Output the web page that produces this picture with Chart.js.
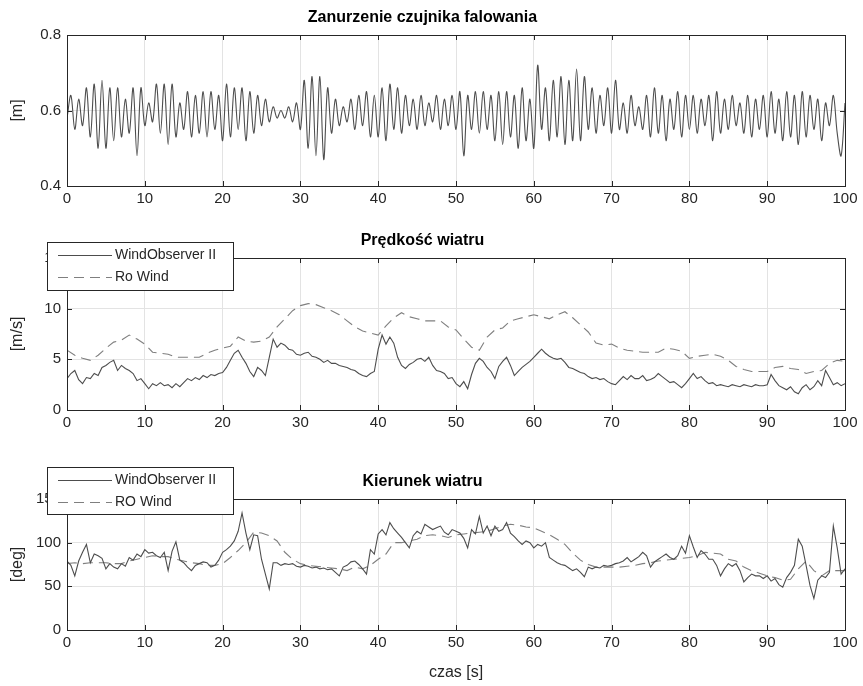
<!DOCTYPE html>
<html>
<head>
<meta charset="utf-8">
<script src="https://cdn.jsdelivr.net/npm/chart.js@4.4.1/dist/chart.umd.min.js"></script>
<style>
  body { margin: 0; background: #fff; }
  #wrap { position: relative; width: 863px; height: 686px; }
  canvas { position: absolute; left: 0; }
</style>
</head>
<body>
<div id="wrap">
  <canvas id="waveChart" width="863" height="223" style="top:0px"></canvas>
  <canvas id="speedChart" width="863" height="223" style="top:223px"></canvas>
  <canvas id="dirChart" width="863" height="222" style="top:464px"></canvas>
</div>
<script>
// sample steps (s)
const FAST_DT = 0.5;
const SLOW_DT = 1;
const X_TICKS = [0, 10, 20, 30, 40, 50, 60, 70, 80, 90, 100];

// Zanurzenie czujnika falowania [m], every 0.5 s
const waveDepth = [
  0.58,0.64,0.55,0.63,0.56,0.66,0.53,0.67,0.50,0.68,
  0.50,0.66,0.52,0.66,0.53,0.63,0.54,0.66,0.48,0.66,
  0.56,0.62,0.57,0.67,0.54,0.67,0.51,0.67,0.53,0.62,
  0.55,0.65,0.53,0.64,0.54,0.65,0.53,0.65,0.55,0.64,
  0.52,0.67,0.53,0.66,0.55,0.66,0.52,0.65,0.54,0.64,
  0.56,0.63,0.57,0.61,0.58,0.60,0.58,0.61,0.57,0.62,
  0.55,0.68,0.50,0.69,0.48,0.69,0.47,0.66,0.54,0.63,
  0.56,0.61,0.57,0.63,0.55,0.64,0.56,0.65,0.53,0.64,
  0.53,0.66,0.52,0.67,0.55,0.66,0.54,0.64,0.56,0.63,
  0.55,0.64,0.56,0.62,0.57,0.64,0.55,0.63,0.56,0.64,
  0.55,0.65,0.48,0.64,0.55,0.65,0.54,0.65,0.55,0.64,
  0.52,0.65,0.51,0.65,0.53,0.64,0.50,0.66,0.52,0.63,
  0.50,0.72,0.55,0.66,0.52,0.68,0.53,0.69,0.51,0.68,
  0.52,0.71,0.52,0.69,0.55,0.66,0.54,0.64,0.56,0.66,
  0.54,0.68,0.55,0.62,0.54,0.64,0.56,0.61,0.55,0.64,
  0.53,0.66,0.54,0.64,0.52,0.63,0.55,0.65,0.53,0.64,
  0.55,0.64,0.54,0.63,0.56,0.64,0.52,0.65,0.54,0.63,
  0.55,0.64,0.56,0.62,0.54,0.64,0.53,0.63,0.55,0.64,
  0.53,0.65,0.54,0.63,0.52,0.65,0.53,0.64,0.51,0.65,
  0.53,0.64,0.55,0.63,0.52,0.62,0.56,0.64,0.54,0.48,
  0.62
];

// Prędkość wiatru [m/s]
const speedWindObserver = [
  3.1,3.6,3.9,3.0,2.6,3.2,3.1,3.6,3.4,4.2,
  4.4,4.7,4.9,3.9,4.4,4.1,3.9,3.6,2.9,3.1,
  2.6,2.1,2.6,2.4,2.7,2.4,2.5,2.2,2.6,2.3,
  2.7,3.1,2.9,3.2,3.0,3.4,3.2,3.5,3.4,3.6,
  3.7,4.2,4.9,5.6,5.9,5.2,4.6,3.8,3.3,4.2,
  3.9,3.4,5.2,7.0,6.2,6.6,6.4,6.0,5.9,5.5,
  5.4,5.6,5.7,5.3,5.2,5.0,4.7,4.9,4.6,4.6,
  4.4,4.3,4.2,4.0,3.9,3.6,3.4,3.3,3.6,3.8,
  6.0,7.4,6.5,7.2,6.6,5.2,4.4,4.1,4.5,4.7,
  5.0,5.1,4.8,5.2,4.4,3.9,3.8,3.6,3.1,3.2,
  2.6,2.3,2.8,2.1,3.5,4.6,5.1,4.8,4.2,3.8,
  3.1,4.3,4.8,5.2,4.4,3.4,3.8,4.2,4.5,4.8,
  5.2,5.6,6.0,5.6,5.3,5.1,5.0,5.1,4.7,4.2,
  4.1,3.9,3.7,3.6,3.3,3.1,3.2,3.0,3.1,2.8,
  2.6,2.5,2.9,3.3,3.0,3.4,3.1,3.1,3.4,2.9,
  3.0,3.2,3.6,3.3,3.0,2.7,2.8,2.5,2.2,2.6,
  3.1,3.6,3.1,3.3,2.9,2.6,2.7,2.4,2.5,2.4,
  2.3,2.5,2.4,2.3,2.5,2.4,2.3,2.5,2.4,2.4,
  2.5,3.5,2.9,2.4,2.2,2.0,2.3,1.8,1.6,2.2,
  2.5,2.0,2.3,2.9,2.4,3.9,3.2,2.5,2.7,2.4,
  2.6
];
const speedRoWind = [
  5.9,5.4,5.1,4.9,5.4,6.1,6.7,6.9,7.4,7.0,
  6.5,5.7,5.6,5.5,5.2,5.2,5.2,5.2,5.6,5.9,
  6.1,6.3,7.2,6.8,6.7,6.8,7.2,8.2,9.0,9.8,
  10.3,10.5,10.4,10.1,9.8,9.4,8.8,8.2,7.8,7.6,
  7.4,8.3,9.1,9.6,9.2,9.0,8.8,8.8,8.8,8.2,
  7.9,7.0,6.2,5.9,7.2,7.9,8.1,8.8,9.0,9.2,
  9.4,9.2,9.0,9.4,9.7,9.1,8.4,7.7,6.6,6.4,
  6.5,6.1,5.9,5.8,5.7,5.7,5.7,6.1,6.0,5.8,
  5.1,5.3,5.4,5.5,5.3,4.9,4.3,4.0,3.8,3.8,
  3.8,4.2,4.3,4.1,4.0,3.6,3.8,3.9,4.6,4.9,
  4.8
];

// Kierunek wiatru [deg]
const dirWindObserver = [
  79,74,62,79,89,98,77,87,85,82,
  70,76,72,70,76,73,83,80,87,84,
  92,88,89,85,83,89,68,90,101,80,
  77,72,68,74,76,78,77,72,74,80,
  89,92,96,102,113,134,111,92,109,108,
  81,64,47,77,77,74,76,75,76,73,
  72,74,73,71,72,70,71,69,70,66,
  62,72,74,78,79,75,70,64,92,87,
  110,115,109,123,116,111,106,100,94,108,
  113,110,121,118,115,117,119,112,109,115,
  113,111,105,94,115,110,130,111,119,108,
  119,113,115,123,111,107,102,98,102,100,
  94,98,96,100,83,80,77,75,74,71,
  68,70,66,61,72,70,72,71,74,73,
  74,76,77,79,83,78,81,84,89,85,
  72,78,81,84,87,83,81,85,96,88,
  108,95,83,91,87,81,81,74,62,70,
  76,73,76,68,55,60,64,62,62,59,
  62,56,59,52,49,60,66,74,104,96,
  74,51,36,57,62,60,66,119,94,64,
  70
];
const dirRoWind = [
  76,77,76,77,77,77,76,76,79,81,
  83,85,84,84,81,79,77,76,74,74,
  76,83,91,100,112,111,108,102,89,81,
  76,74,73,72,71,70,68,72,70,74,
  81,87,100,100,102,104,108,109,108,106,
  109,110,111,112,113,116,119,121,120,118,
  117,113,109,104,98,88,80,75,72,72,
  72,72,73,74,76,77,79,80,81,82,
  83,85,89,88,87,81,79,72,68,65,
  62,60,57,58,70,79,68,62,68,68,
  68
];

const SOLID = "#4d4d4d";
const DASHED = "#7f7f7f";
const GRID = "#e3e3e3";
const AXIS = "#262626";
const FONT = "'Liberation Sans', Arial, sans-serif";

function toPoints(values, dt) {
  return values.map((v, i) => ({ x: i * dt, y: v }));
}

// full box + inward tick marks, like the original axes
const axesBox = {
  id: "axesBox",
  afterDraw(chart) {
    const { ctx, chartArea: a, scales } = chart;
    ctx.save();
    ctx.strokeStyle = AXIS;
    ctx.lineWidth = 1;
    ctx.strokeRect(Math.round(a.left) + 0.5, Math.round(a.top) + 0.5,
                   Math.round(a.right - a.left), Math.round(a.bottom - a.top));
    ctx.beginPath();
    scales.x.ticks.forEach((t) => {
      const px = Math.round(scales.x.getPixelForValue(t.value)) + 0.5;
      ctx.moveTo(px, a.bottom); ctx.lineTo(px, a.bottom - 5);
      ctx.moveTo(px, a.top); ctx.lineTo(px, a.top + 5);
    });
    scales.y.ticks.forEach((t) => {
      const py = Math.round(scales.y.getPixelForValue(t.value)) + 0.5;
      ctx.moveTo(a.left, py); ctx.lineTo(a.left + 5, py);
      ctx.moveTo(a.right, py); ctx.lineTo(a.right - 5, py);
    });
    ctx.stroke();
    ctx.restore();
  },
};

// boxed legend overlapping the axes corner
const boxLegend = {
  id: "boxLegend",
  afterDraw(chart, args, opts) {
    if (!opts || !opts.show) return;
    const { ctx } = chart;
    ctx.save();
    ctx.fillStyle = "#fff";
    ctx.fillRect(opts.x, opts.y, opts.w, opts.h);
    ctx.strokeStyle = AXIS;
    ctx.lineWidth = 1;
    ctx.strokeRect(opts.x + 0.5, opts.y + 0.5, opts.w, opts.h);
    ctx.font = "14px " + FONT;
    ctx.textBaseline = "middle";
    chart.data.datasets.forEach((ds, i) => {
      const cy = Math.round(opts.y + 13 + i * 22) + 0.5;
      ctx.strokeStyle = ds.borderColor;
      ctx.setLineDash(ds.borderDash || []);
      ctx.beginPath();
      ctx.moveTo(opts.x + 11, cy);
      ctx.lineTo(opts.x + 65, cy);
      ctx.stroke();
      ctx.setLineDash([]);
      ctx.fillStyle = AXIS;
      ctx.fillText(ds.label, opts.x + 68, cy);
    });
    ctx.restore();
  },
};

function buildPanel(id, cfg) {
  new Chart(document.getElementById(id), {
    type: "line",
    data: { datasets: cfg.datasets },
    plugins: [axesBox, boxLegend],
    options: {
      responsive: false,
      animation: false,
      events: [],
      layout: { padding: { left: 0, right: 18, top: 0, bottom: 0 } },
      elements: { point: { radius: 0 }, line: { borderWidth: 1.1 } },
      plugins: {
        legend: { display: false },
        tooltip: { enabled: false },
        title: {
          display: true,
          text: cfg.title,
          color: "#000",
          font: { family: FONT, size: 16, weight: "bold" },
          padding: { top: 8, bottom: 7.8 },
        },
        boxLegend: cfg.legend || { show: false },
      },
      scales: {
        x: {
          type: "linear",
          min: 0, max: 100,
          afterBuildTicks: (s) => { s.ticks = X_TICKS.map((v) => ({ value: v })); },
          afterFit: (s) => { s.height = cfg.xAxisHeight; },
          grid: { color: GRID, drawTicks: false },
          border: { display: false },
          ticks: { color: AXIS, padding: 4, maxRotation: 0, font: { family: FONT, size: 15 } },
          title: cfg.xTitle
            ? { display: true, text: cfg.xTitle, color: AXIS, font: { family: FONT, size: 16 }, padding: { top: 0, bottom: 4 } }
            : { display: false },
        },
        y: {
          min: cfg.yMin, max: cfg.yMax,
          afterBuildTicks: (s) => { s.ticks = cfg.yTicks.map((v) => ({ value: v })); },
          afterFit: (s) => { s.width = 67; },
          grid: { color: GRID, drawTicks: false },
          border: { display: false },
          ticks: { color: AXIS, padding: 6, font: { family: FONT, size: 15 } },
          title: { display: true, text: cfg.yTitle, color: AXIS, font: { family: FONT, size: 16 }, padding: { top: 8, bottom: 0 } },
        },
      },
    },
  });
}

buildPanel("waveChart", {
  title: "Zanurzenie czujnika falowania",
  yTitle: "[m]",
  yMin: 0.4, yMax: 0.8, yTicks: [0.4, 0.6, 0.8],
  xAxisHeight: 37,
  datasets: [{
    label: "Zanurzenie",
    data: toPoints(waveDepth, FAST_DT),
    borderColor: SOLID,
    tension: 0.35,
  }],
});

buildPanel("speedChart", {
  title: "Prędkość wiatru",
  yTitle: "[m/s]",
  yMin: 0, yMax: 15, yTicks: [0, 5, 10, 15],
  xAxisHeight: 36,
  legend: { show: true, x: 47, y: 19, w: 186, h: 48 },
  datasets: [
    { label: "WindObserver II", data: toPoints(speedWindObserver, FAST_DT), borderColor: SOLID, tension: 0 },
    { label: "Ro Wind", data: toPoints(speedRoWind, SLOW_DT), borderColor: DASHED, borderDash: [10, 6], tension: 0 },
  ],
});

buildPanel("dirChart", {
  title: "Kierunek wiatru",
  yTitle: "[deg]",
  yMin: 0, yMax: 150, yTicks: [0, 50, 100, 150],
  xAxisHeight: 56,
  xTitle: "czas [s]",
  legend: { show: true, x: 47, y: 3, w: 186, h: 47 },
  datasets: [
    { label: "WindObserver II", data: toPoints(dirWindObserver, FAST_DT), borderColor: SOLID, tension: 0 },
    { label: "RO Wind", data: toPoints(dirRoWind, SLOW_DT), borderColor: DASHED, borderDash: [10, 6], tension: 0 },
  ],
});
</script>
</body>
</html>
